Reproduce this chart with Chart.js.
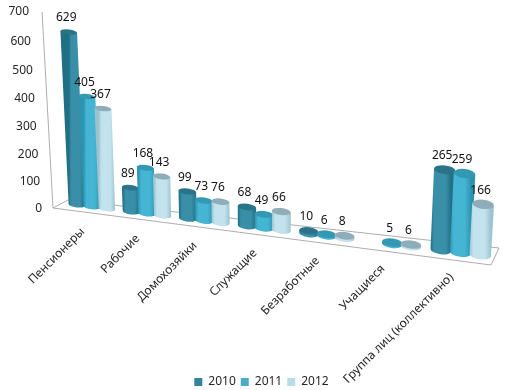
<!DOCTYPE html>
<html>
<head>
<meta charset="utf-8">
<script src="https://cdn.jsdelivr.net/npm/chart.js@4"></script>
<style>
  html, body { margin: 0; background: #fff; }
  #wrap { width: 508px; height: 390px; }
</style>
</head>
<body>
<div id="wrap"><canvas id="chart" width="508" height="390"></canvas></div>
<script>
const categories = ["Пенсионеры", "Рабочие", "Домохозяйки", "Служащие", "Безработные", "Учащиеся", "Группа лиц (коллективно)"]
const seriesNames = ["2010", "2011", "2012"]
const values2010 = [629, 89, 99, 68, 10, null, 265]
const values2011 = [405, 168, 73, 49, 6, 5, 259]
const values2012 = [367, 143, 76, 66, 8, 6, 166]

const yMin = 0
const yMax = 700
const yStep = 100

const FONT = "12px 'Noto Sans', sans-serif"
const TEXT = "#262626"
const FRAME = "#adadad"

// body edge, body centre, top cap
const shades = [
  ["#1f6f85", "#3a8fa8", "#2a7388"],
  ["#2b94b0", "#45b5d4", "#3398b3"],
  ["#9dc3d0", "#c2e3ee", "#8fadb8"],
]

// the chart is a tilted 3D one: scale units (s = category position, v = value) to page pixels
function project(s, v) {
  const d = 1 - 0.02036 * s - 0.000066 * v
  return {
    x: (76.7 + 51.74 * s - 0.0172 * v) / d,
    y: (205 + 2.41 * s - 0.2771 * v) / d,
  }
}

// same thing for the value axis, which stands at the left corner of the floor
function projectAxis(v) {
  const d = 1 - 0.000066 * v
  return { x: (42 - 0.0204 * v) / d, y: (209 - 0.2823 * v) / d }
}

function drawCylinder(ctx, bottom, top, rxBottom, rxTop, ratio, angle, colors) {
  const cos = Math.cos(angle)
  const sin = Math.sin(angle)

  const grad = ctx.createLinearGradient(bottom.x - rxBottom, 0, bottom.x + rxBottom, 0)
  grad.addColorStop(0, colors[0])
  grad.addColorStop(0.18, colors[1])
  grad.addColorStop(0.7, colors[1])
  grad.addColorStop(1, colors[0])

  ctx.beginPath()
  ctx.moveTo(top.x - rxTop * cos, top.y - rxTop * sin)
  ctx.lineTo(bottom.x - rxBottom * cos, bottom.y - rxBottom * sin)
  ctx.ellipse(bottom.x, bottom.y, rxBottom, rxBottom * ratio, angle, Math.PI, 0, true)
  ctx.lineTo(top.x + rxTop * cos, top.y + rxTop * sin)
  ctx.closePath()
  ctx.fillStyle = grad
  ctx.fill()

  ctx.beginPath()
  ctx.ellipse(top.x, top.y, rxTop, rxTop * ratio, angle, 0, Math.PI * 2)
  ctx.fillStyle = colors[2]
  ctx.fill()
}

const tiltedPlugin = {
  id: "tilted",
  beforeDatasetsDraw(chart) {
    const ctx = chart.ctx
    const xScale = chart.scales.x
    const yScale = chart.scales.y
    const catWidth = xScale.width / categories.length
    const toS = (px) => (px - xScale.left) / catWidth - 0.5 + 0.28

    ctx.save()

    // floor outline and value axis
    ctx.strokeStyle = FRAME
    ctx.lineWidth = 1
    ctx.beginPath()
    ctx.moveTo(53, 208)
    ctx.lineTo(491, 265)
    ctx.lineTo(499, 248)
    ctx.lineTo(68, 200)
    ctx.closePath()
    const axisTop = projectAxis(yMax)
    ctx.moveTo(axisTop.x + 13, axisTop.y)
    ctx.lineTo(53, 208)
    ctx.stroke()

    // value ticks
    ctx.font = FONT
    ctx.fillStyle = TEXT
    ctx.textAlign = "right"
    ctx.textBaseline = "middle"
    yScale.ticks.forEach((t) => {
      const p = projectAxis(t.value)
      ctx.fillText(String(t.value), p.x, p.y)
    })

    // category labels
    categories.forEach((name, i) => {
      const p = project(toS(xScale.getPixelForValue(i)), 0)
      ctx.save()
      ctx.translate(p.x - 9, p.y + 23)
      ctx.rotate(-Math.PI / 4)
      ctx.textAlign = "right"
      ctx.fillText(name, 0, 0)
      ctx.restore()
    })

    // cylinders, one series after the other so the later ones sit in front
    const labels = []
    chart.data.datasets.forEach((ds, di) => {
      chart.getDatasetMeta(di).data.forEach((el, i) => {
        if (ds.data[i] === null) return
        const s = toS(el.x)
        const half = (el.width / 2 / catWidth) * 1.08
        const v = yScale.getValueForPixel(el.y)
        const bottom = project(s, 0)
        const top = project(s, v)
        const bl = project(s - half, 0)
        const br = project(s + half, 0)
        const tl = project(s - half, v)
        const tr = project(s + half, v)
        const angle = Math.atan2(br.y - bl.y, br.x - bl.x)
        const rxBottom = Math.hypot(br.x - bl.x, br.y - bl.y) / 2
        const rxTop = Math.hypot(tr.x - tl.x, tr.y - tl.y) / 2
        const ratio = 0.3 + s * 0.018
        drawCylinder(ctx, bottom, top, rxBottom, rxTop, ratio, angle, shades[di])
        labels.push({ text: String(ds.data[i]), x: top.x - 2.5, y: top.y - 14 })
      })
    })

    ctx.font = FONT
    ctx.fillStyle = "#111"
    ctx.textAlign = "center"
    ctx.textBaseline = "middle"
    labels.forEach((l) => ctx.fillText(l.text, l.x, l.y))

    ctx.restore()
    return false
  },
}

new Chart(document.getElementById("chart"), {
  type: "bar",
  data: {
    labels: categories,
    datasets: [
      { label: seriesNames[0], data: values2010, backgroundColor: "#31859c" },
      { label: seriesNames[1], data: values2011, backgroundColor: "#4bacc6" },
      { label: seriesNames[2], data: values2012, backgroundColor: "#b7dee8" },
    ],
  },
  options: {
    responsive: false,
    animation: false,
    layout: { padding: { left: 15, bottom: -8 } },
    categoryPercentage: 0.84,
    barPercentage: 1,
    scales: {
      x: { display: false },
      y: { display: false, min: yMin, max: yMax, ticks: { stepSize: yStep } },
    },
    plugins: {
      tooltip: { enabled: false },
      legend: {
        position: "bottom",
        labels: {
          boxWidth: 8,
          boxHeight: 8,
          padding: 5,
          color: TEXT,
          font: { family: "'Noto Sans', sans-serif", size: 12 },
        },
      },
    },
  },
  plugins: [tiltedPlugin],
})
</script>
</body>
</html>
